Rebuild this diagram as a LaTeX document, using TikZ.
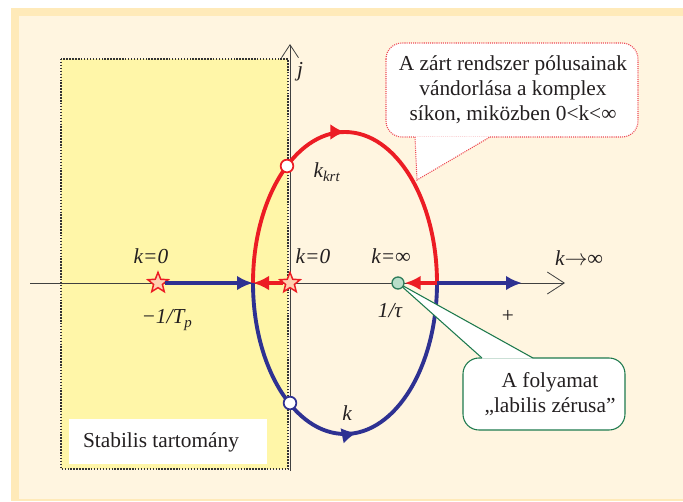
\documentclass[tikz,border=0pt]{standalone}
\usepackage{fontspec}
\setmainfont{Liberation Serif}
\usetikzlibrary{arrows.meta,shapes.geometric,decorations.markings}
\definecolor{bandc}{HTML}{FFEAB9}
\definecolor{bgc}{HTML}{FFF5E0}
\definecolor{stabc}{HTML}{FFF6A8}
\definecolor{myred}{HTML}{EC1C24}
\definecolor{myblue}{HTML}{2E3192}
\definecolor{starfill}{HTML}{FFD0B0}
\definecolor{zerofill}{HTML}{B8DEC9}
\definecolor{zerodraw}{HTML}{2E7D5B}
\definecolor{calred}{HTML}{EE4A55}
\definecolor{calgreen}{HTML}{1E7A4E}
\definecolor{txt}{HTML}{231F20}
\begin{document}
\begin{tikzpicture}[x=0.75pt,y=-0.75pt,
  lbl/.style={text=txt,font=\fontsize{16}{18.75}\selectfont\itshape,inner sep=0},
  plain/.style={text=txt,font=\fontsize{16}{18.75}\selectfont,inner sep=0,align=center},
  axisline/.style={draw=black!75,line width=0.6pt},
  redline/.style={draw=myred,line width=2.9pt},
  blueline/.style={draw=myblue,line width=2.9pt},
  headtip/.style={-{Latex[length=12pt,width=11pt]}},
  starmark/.style={star,star points=5,star point ratio=2.3,minimum size=16pt,inner sep=0,draw=myred,fill=starfill,line width=1.1pt},
  hollow/.style={circle,minimum size=9.5pt,inner sep=0,fill=white,line width=1.3pt},
  zeromark/.style={circle,minimum size=9pt,inner sep=0,fill=zerofill,draw=zerodraw,line width=1pt},
  dotborder/.style={draw=black!80,line width=1.2pt,dash pattern=on 1.1pt off 1.1pt},
  midarrow/.style={postaction={decorate},decoration={markings,mark=at position #1 with {\arrow{Latex[length=11pt,width=12pt]}}}}]
\useasboundingbox (0,0) rectangle (683,501);
% background frame
\fill[white] (0,0) rectangle (683,501);
\fill[bandc] (11,8) rectangle (683,501);
\fill[bgc] (19,16) rectangle (683,499);
% stable region
\fill[stabc] (61,59) rectangle (288,469);
\draw[dotborder] (61,59) rectangle (288,469);
\node[fill=white,inner sep=0,minimum width=148.5pt,minimum height=33.75pt] (stabbox) at (168,441.5) {};
\node[plain] (stabtxt) at (161,442) {Stabilis tartomány};
% axes
\coordinate (xs) at (30,283);
\coordinate (xe) at (565,283);
\coordinate (ys) at (290,471);
\coordinate (ye) at (290,44);
\draw[axisline,-{Straight Barb[length=12.75pt,width=16.5pt]}] (xs) -- (xe);
\draw[axisline,-{Straight Barb[length=9.75pt,width=12.75pt]}] (ys) -- (ye);
% ellipse (root locus)
\coordinate (L) at (253,283);
\coordinate (R) at (437,283);
\draw[redline,midarrow=0.5] (L) arc[start angle=180,end angle=360,x radius=92,y radius=151];
\draw[blueline,midarrow=0.53] (L) arc[start angle=180,end angle=0,x radius=92,y radius=151];
\node[hollow,draw=myred] (kkrt) at (287,166) {};
\node[hollow,draw=myblue] (kpt) at (290,403) {};
% callout 2 (drawn under the zero)
\coordinate (zc) at (398,283);
\draw[calgreen,fill=white,line width=0.8pt,rounded corners=12pt] (463,358) rectangle (625,430);
\fill[white] (zc) -- (533,358.6) -- (482,358.6) -- cycle;
\draw[calgreen,line width=0.8pt] (482,358) -- (zc) -- (533,358);
\node[plain] (c2) at (550,394.5) {A folyamat\\„labilis zérusa”};
% poles and zero
\node[starmark] (s1) at (158,283) {};
\node[starmark] (s2) at (290,283) {};
\node[zeromark] (z) at (zc) {};
\coordinate (bend) at (522,283);
\draw[blueline,headtip] (s1) -- (L);
\draw[redline,headtip] (s2) -- (L);
\draw[redline,headtip] (R) -- (z);
\draw[blueline,headtip] (R) -- (bend);
% callout 1
\coordinate (c1tip) at (417,180);
\draw[calred,fill=white,line width=0.8pt,dash pattern=on 0.8pt off 0.8pt,rounded corners=12pt] (386,43) rectangle (638,137);
\fill[white] (c1tip) -- (490,136.4) -- (415,136.4) -- cycle;
\draw[calred,line width=0.8pt,dash pattern=on 0.8pt off 0.8pt] (415,137) -- (c1tip) -- (490,137);
\node[plain] (c1) at (513,90) {A zárt rendszer pólusainak\\vándorlása a komplex\\síkon, miközben 0<k<∞};
% labels
\node[lbl] (jl) at (300,72) {j};
\node[lbl] (k0a) at (151,256) {k=0};
\node[lbl] (k0b) at (313,256) {k=0};
\node[lbl] (kinf) at (391,256) {k=∞};
\node[lbl] (kto) at (579,258) {k$\rightarrow$∞};
\node[lbl] (tp) at (167,320) {−1/T\textsubscript{p}};
\node[lbl] (tau) at (390,311) {1/τ};
\node[plain] (plus) at (508,316) {+};
\node[lbl] (kkl) at (327,172) {k\textsubscript{krt}};
\node[lbl] (kl) at (347,413) {k};
\end{tikzpicture}
\end{document}
